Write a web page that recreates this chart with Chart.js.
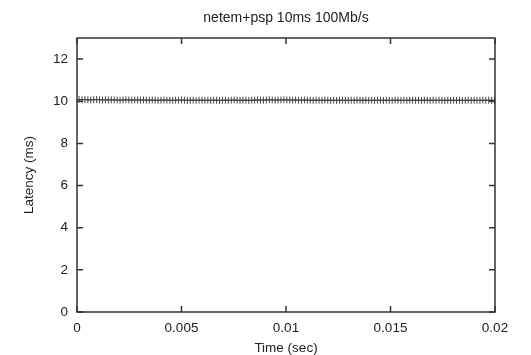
<!DOCTYPE html>
<html>
<head>
<meta charset="utf-8">
<script src="https://cdn.jsdelivr.net/npm/chart.js@4.4.1/dist/chart.umd.min.js"></script>
<style>
  html, body { margin: 0; padding: 0; background: #fff; }
  #wrap { width: 531px; height: 355px; }
</style>
</head>
<body>
<div id="wrap"><canvas id="c" width="531" height="355"></canvas></div>
<script>
// Packet send times (microseconds) and measured one-way latency (ms)
const sendTimesUs = [
  100, 240, 380, 520, 660, 800, 940, 1080, 1220, 1360,
  1500, 1640, 1780, 1920, 2060, 2200, 2340, 2480, 2620, 2760,
  2900, 3040, 3180, 3320, 3460, 3600, 3740, 3880, 4020, 4160,
  4300, 4440, 4580, 4720, 4860, 5000, 5140, 5280, 5420, 5560,
  5700, 5840, 5980, 6120, 6260, 6400, 6540, 6680, 6820, 6960,
  7100, 7240, 7380, 7520, 7660, 7800, 7940, 8080, 8220, 8360,
  8500, 8640, 8780, 8920, 9060, 9200, 9340, 9480, 9620, 9760,
  9900, 10040, 10180, 10320, 10460, 10600, 10740, 10880, 11020, 11160,
  11300, 11440, 11580, 11720, 11860, 12000, 12140, 12280, 12420, 12560,
  12700, 12840, 12980, 13120, 13260, 13400, 13540, 13680, 13820, 13960,
  14100, 14240, 14380, 14520, 14660, 14800, 14940, 15080, 15220, 15360,
  15500, 15640, 15780, 15920, 16060, 16200, 16340, 16480, 16620, 16760,
  16900, 17040, 17180, 17320, 17460, 17600, 17740, 17880, 18020, 18160,
  18300, 18440, 18580, 18720, 18860, 19000, 19140, 19280, 19420, 19560,
  19700, 19840, 19980
];
const latencyMs = [
  10.08, 10.07, 10.08, 10.07, 10.06, 10.07, 10.08, 10.07, 10.06, 10.07,
  10.06, 10.07, 10.06, 10.06, 10.05, 10.06, 10.07, 10.06, 10.05, 10.06,
  10.06, 10.05, 10.06, 10.05, 10.05, 10.06, 10.05, 10.04, 10.05, 10.06,
  10.05, 10.05, 10.04, 10.05, 10.05, 10.06, 10.05, 10.04, 10.05, 10.05,
  10.04, 10.05, 10.05, 10.04, 10.05, 10.04, 10.05, 10.05, 10.04, 10.05,
  10.05, 10.04, 10.05, 10.06, 10.05, 10.04, 10.05, 10.05, 10.04, 10.05,
  10.05, 10.06, 10.05, 10.05, 10.06, 10.07, 10.06, 10.05, 10.06, 10.06,
  10.07, 10.06, 10.06, 10.05, 10.06, 10.05, 10.05, 10.06, 10.05, 10.05,
  10.04, 10.05, 10.05, 10.04, 10.05, 10.05, 10.04, 10.05, 10.04, 10.05,
  10.05, 10.04, 10.04, 10.05, 10.04, 10.05, 10.05, 10.04, 10.05, 10.04,
  10.05, 10.04, 10.05, 10.05, 10.04, 10.05, 10.04, 10.04, 10.05, 10.05,
  10.04, 10.05, 10.04, 10.05, 10.05, 10.04, 10.05, 10.04, 10.05, 10.05,
  10.04, 10.05, 10.04, 10.05, 10.04, 10.04, 10.05, 10.04, 10.05, 10.04,
  10.05, 10.04, 10.04, 10.05, 10.04, 10.05, 10.04, 10.04, 10.05, 10.04,
  10.05, 10.04, 10.05
];
const xTickValues = [0, 0.005, 0.01, 0.015, 0.02];
const xTickLabels = ['0', '0.005', '0.01', '0.015', '0.02'];
const yTickValues = [0, 2, 4, 6, 8, 10, 12];
const yTickLabels = ['0', '2', '4', '6', '8', '10', '12'];

const titleText = 'netem+psp 10ms 100Mb/s';
const FONT = '"Liberation Sans", Arial, sans-serif';
const INK = '#222';
const LABEL_SIZE = 13.5;

const points = sendTimesUs.map((t, i) => ({ x: t / 1e6, y: latencyMs[i] }));

// Draws the boxed frame, inward tick marks on all four sides, and the title
const framePlugin = {
  id: 'frame',
  afterDraw(chart) {
    const { ctx, chartArea: a, scales } = chart;
    ctx.save();
    ctx.strokeStyle = '#333';
    ctx.lineWidth = 1.5;
    ctx.strokeRect(a.left, a.top, a.right - a.left, a.bottom - a.top);
    ctx.beginPath();
    const tl = 6;
    scales.x.ticks.forEach(t => {
      const px = scales.x.getPixelForValue(t.value);
      ctx.moveTo(px, a.bottom); ctx.lineTo(px, a.bottom - tl);
      ctx.moveTo(px, a.top); ctx.lineTo(px, a.top + tl);
    });
    scales.y.ticks.forEach(t => {
      const py = scales.y.getPixelForValue(t.value);
      ctx.moveTo(a.left, py); ctx.lineTo(a.left + tl, py);
      ctx.moveTo(a.right, py); ctx.lineTo(a.right - tl, py);
    });
    ctx.stroke();
    ctx.fillStyle = INK;
    ctx.font = '14px ' + FONT;
    ctx.textAlign = 'center';
    ctx.textBaseline = 'middle';
    ctx.fillText(titleText, (a.left + a.right) / 2, 18);
    ctx.restore();
  }
};

new Chart(document.getElementById('c'), {
  type: 'scatter',
  data: {
    datasets: [{
      data: points,
      pointStyle: 'cross',
      pointRadius: 3.5,
      pointHoverRadius: 3.5,
      borderColor: '#444',
      backgroundColor: '#444',
      borderWidth: 1,
      showLine: false
    }]
  },
  options: {
    responsive: false,
    animation: false,
    devicePixelRatio: 1,
    layout: { padding: { top: 38, right: 36, left: 0, bottom: 0 } },
    plugins: { legend: { display: false }, tooltip: { enabled: false }, title: { display: false } },
    scales: {
      x: {
        type: 'linear',
        min: 0,
        max: 0.02,
        afterBuildTicks(s) { s.ticks = xTickValues.map(v => ({ value: v })); },
        afterFit(s) { s.height = 43; },
        grid: { display: false, drawTicks: false },
        border: { display: false },
        ticks: {
          padding: 8,
          color: INK,
          font: { family: FONT, size: LABEL_SIZE },
          maxRotation: 0,
          callback: (v) => { const i = xTickValues.indexOf(v); return i >= 0 ? xTickLabels[i] : ''; }
        },
        title: { display: true, text: 'Time (sec)', color: INK, font: { family: FONT, size: LABEL_SIZE }, padding: { top: 0, bottom: -1 } }
      },
      y: {
        type: 'linear',
        min: 0,
        max: 13,
        afterBuildTicks(s) { s.ticks = yTickValues.map(v => ({ value: v })); },
        afterFit(s) { s.width = 77; },
        grid: { display: false, drawTicks: false },
        border: { display: false },
        ticks: {
          padding: 9,
          color: INK,
          font: { family: FONT, size: LABEL_SIZE },
          callback: (v) => { const i = yTickValues.indexOf(v); return i >= 0 ? yTickLabels[i] : ''; }
        },
        title: { display: true, text: 'Latency (ms)', color: INK, font: { family: FONT, size: LABEL_SIZE }, padding: { top: 21, bottom: 0 } }
      }
    }
  },
  plugins: [framePlugin]
});
</script>
</body>
</html>
